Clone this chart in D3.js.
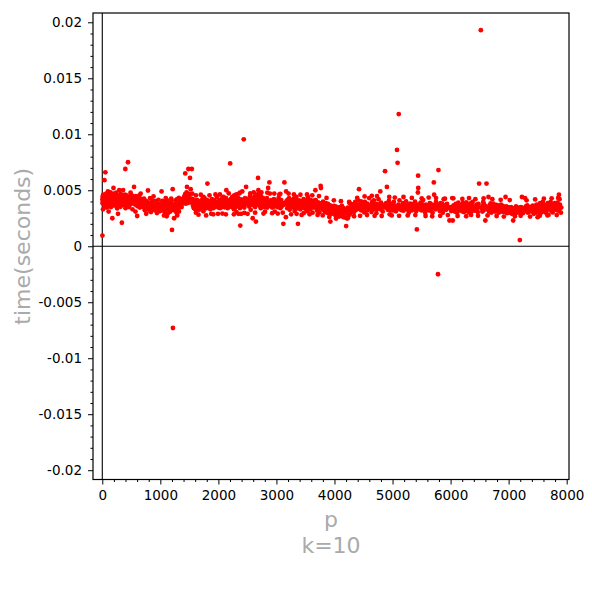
<!DOCTYPE html>
<html>
<head>
<meta charset="utf-8">
<script src="https://cdn.jsdelivr.net/npm/d3@7"></script>
<style>
  body { margin: 0; background: #fff; }
  svg { display: block; font-family: "DejaVu Sans", sans-serif; }
</style>
</head>
<body>
<svg id="chart" width="592" height="595"></svg>
<script>
// timing runs, [p, seconds], one block per thousand
const run0 = [[2,0.00095],[3,0.00420],[5,0.00385],[7,0.00445],[11,0.00402],[13,0.00330],[17,0.00460],[19,0.00415],[23,0.00372],[29,0.00428],[31,0.00398],[37,0.00590],[41,0.00455],[43,0.00410],[47,0.00360],[53,0.00660],[59,0.00432],[61,0.00395],[67,0.00470],[71,0.00380],[73,0.00418],[79,0.00345],[83,0.00440],[89,0.00405],[97,0.00490],[101,0.00375],[103,0.00425],[107,0.00455],[109,0.00310],[113,0.00398],[127,0.00440],[131,0.00372],[137,0.00418],[139,0.00482],[149,0.00350],[151,0.00430],[157,0.00402],[163,0.00455],[167,0.00388],[173,0.00250],[179,0.00415],[181,0.00365],[191,0.00470],[193,0.00520],[197,0.00398],[199,0.00430],
  [211,0.00410],[223,0.00362],[229,0.00445],[233,0.00392],[239,0.00478],[251,0.00420],[257,0.00338],[263,0.00405],[269,0.00455],[271,0.00290],[277,0.00415],[281,0.00372],[283,0.00440],[293,0.00500],[307,0.00398],[311,0.00425],[313,0.00352],[317,0.00468],[331,0.00410],[337,0.00210],[347,0.00435],[349,0.00380],[353,0.00415],[359,0.00502],[367,0.00448],[373,0.00365],[379,0.00420],[383,0.00395],[389,0.00460],[397,0.00690],[401,0.00340],[409,0.00425],[419,0.00405],[421,0.00455],[431,0.00372],[433,0.00415],[439,0.00388],[443,0.00750],[449,0.00436],[457,0.00398],[461,0.00350],[463,0.00442],[467,0.00410],[479,0.00372],[487,0.00478],[491,0.00405],[499,0.00380],
  [503,0.00425],[509,0.00455],[521,0.00330],[523,0.00400],[541,0.00418],[547,0.00530],[557,0.00375],[563,0.00435],[569,0.00392],[571,0.00310],[577,0.00448],[587,0.00405],[593,0.00365],[599,0.00420],[601,0.00270],[607,0.00388],[613,0.00440],[617,0.00356],[619,0.00412],[631,0.00380],[641,0.00455],[643,0.00402],[647,0.00345],[653,0.00420],[659,0.00388],[661,0.00470],[673,0.00395],[677,0.00355],[683,0.00418],[691,0.00385],
  [701,0.00392],[709,0.00348],[719,0.00425],[727,0.00368],[733,0.00322],[739,0.00384],[743,0.00352],[751,0.00405],[757,0.00290],[761,0.00370],[769,0.00398],[773,0.00338],[787,0.00498],[797,0.00362],[809,0.00388],[811,0.00318],[821,0.00370],[823,0.00430],[827,0.00345],[829,0.00382],[839,0.00305],[853,0.00392],[857,0.00340],[859,0.00410],[863,0.00365],[877,0.00328],[881,0.00395],[883,0.00445],[887,0.00352],[907,0.00378],[911,0.00320],[919,0.00402],[929,0.00348],[937,0.00372],[941,0.00296],[947,0.00385],[953,0.00340],[967,0.00415],[971,0.00360],[977,0.00330],[983,0.00375],[991,0.00312],[997,0.00352]];

const run1000 = [[1009,0.00362],[1013,0.00330],[1021,0.00490],[1031,0.00345],[1039,0.00372],[1049,0.00318],[1051,0.00395],[1061,0.00340],[1069,0.00365],[1087,0.00300],[1091,0.00352],[1097,0.00385],[1103,0.00328],[1117,0.00410],[1123,0.00345],[1129,0.00292],[1151,0.00368],[1153,0.00332],[1163,0.00380],[1171,0.00310],[1181,0.00355],[1187,0.00395],[1193,0.00338],[1201,0.00146],[1213,0.00510],[1217,-0.00730],[1223,0.00362],[1229,0.00322],[1237,0.00250],[1249,0.00375],[1259,0.00340],[1277,0.00302],[1279,0.00385],[1283,0.00352],[1289,0.00420],[1297,0.00328],[1303,0.00365],[1307,0.00395],[1319,0.00342],[1321,0.00310],[1327,0.00372],[1361,0.00395],[1367,0.00350],[1373,0.00420],[1381,0.00380],[1399,0.00405],
  [1409,0.00440],[1423,0.00398],[1427,0.00465],[1429,0.00650],[1433,0.00415],[1439,0.00380],[1447,0.00430],[1451,0.00480],[1453,0.00405],[1459,0.00530],[1471,0.00445],[1481,0.00388],[1483,0.00690],[1487,0.00430],[1489,0.00470],[1493,0.00400],[1499,0.00455],[1511,0.00610],[1523,0.00510],[1531,0.00425],[1543,0.00690],[1549,0.00470],[1553,0.00380],[1559,0.00420],[1567,0.00355],[1571,0.00395],[1579,0.00340],[1583,0.00372],[1597,0.00410],
  [1601,0.00330],[1607,0.00385],[1609,0.00355],[1613,0.00300],[1619,0.00392],[1621,0.00345],[1627,0.00368],[1637,0.00412],[1657,0.00350],[1663,0.00385],[1667,0.00325],[1669,0.00400],[1693,0.00362],[1697,0.00340],[1699,0.00395],[1709,0.00370],[1721,0.00418],[1723,0.00345],[1733,0.00380],[1741,0.00312],[1747,0.00398],[1753,0.00360],[1759,0.00432],[1777,0.00372],[1783,0.00338],[1787,0.00395],[1789,0.00355],[1801,0.00415],[1811,0.00560],[1823,0.00368],[1831,0.00342],[1847,0.00390],[1861,0.00330],[1867,0.00375],[1871,0.00405],[1873,0.00355],[1877,0.00290],[1879,0.00382],[1889,0.00420],[1901,0.00365],[1907,0.00395],[1913,0.00340],[1931,0.00378],[1933,0.00410],[1949,0.00352],[1951,0.00385],[1973,0.00440],[1979,0.00362],[1987,0.00395],[1993,0.00290],[1997,0.00372],[1999,0.00345]];

const run2000 = [[2003,0.00392],[2011,0.00360],[2017,0.00415],[2027,0.00378],[2029,0.00340],[2039,0.00402],[2053,0.00372],[2063,0.00425],[2069,0.00350],[2081,0.00390],[2083,0.00415],[2087,0.00362],[2089,0.00440],[2099,0.00385],[2111,0.00348],[2113,0.00405],[2129,0.00378],[2131,0.00430],[2137,0.00500],[2141,0.00392],[2143,0.00365],[2153,0.00410],[2161,0.00340],[2179,0.00395],[2203,0.00740],[2207,0.00375],[2213,0.00420],[2221,0.00352],[2237,0.00398],[2239,0.00440],[2243,0.00368],[2251,0.00410],[2267,0.00330],[2269,0.00385],[2273,0.00455],[2281,0.00372],[2287,0.00402],[2293,0.00345],[2297,0.00420],[2309,0.00380],[2311,0.00305],[2333,0.00395],[2339,0.00362],[2341,0.00430],[2347,0.00290],[2351,0.00410],[2357,0.00470],[2371,0.00340],[2377,0.00185],[2381,0.00385],[2383,0.00350],[2389,0.00418],[2393,0.00290],[2399,0.00375],
  [2411,0.00490],[2417,0.00412],[2423,0.00360],[2437,0.00955],[2441,0.00398],[2447,0.00345],[2459,0.00430],[2467,0.00372],[2473,0.00410],[2477,0.00530],[2503,0.00385],[2521,0.00420],[2531,0.00355],[2539,0.00398],[2543,0.00445],[2549,0.00370],[2551,0.00405],[2557,0.00325],[2579,0.00388],[2591,0.00250],[2593,0.00415],[2609,0.00365],[2617,0.00440],[2621,0.00392],[2633,0.00350],[2647,0.00220],[2657,0.00405],[2659,0.00375],[2663,0.00460],[2671,0.00395],[2677,0.00420],[2683,0.00610],[2687,0.00372],[2689,0.00500],[2693,0.00438],[2699,0.00470],
  [2707,0.00400],[2711,0.00360],[2713,0.00425],[2719,0.00385],[2729,0.00452],[2731,0.00340],[2741,0.00410],[2749,0.00378],[2753,0.00395],[2767,0.00432],[2777,0.00365],[2789,0.00400],[2791,0.00350],[2797,0.00380],[2801,0.00420],[2803,0.00308],[2819,0.00392],[2833,0.00370],[2837,0.00430],[2843,0.00345],[2851,0.00398],[2857,0.00520],[2861,0.00375],[2879,0.00570],[2887,0.00470],[2897,0.00392],[2903,0.00360],[2909,0.00412],[2917,0.00380],[2927,0.00345],[2939,0.00400],[2953,0.00372],[2957,0.00420],[2963,0.00355],[2969,0.00388],[2971,0.00310],[2999,0.00395]];

const run3000 = [[3001,0.00372],[3011,0.00405],[3019,0.00350],[3023,0.00385],[3037,0.00430],[3041,0.00362],[3049,0.00460],[3061,0.00392],[3067,0.00340],[3079,0.00375],[3083,0.00412],[3089,0.00355],[3109,0.00385],[3119,0.00200],[3121,0.00368],[3137,0.00570],[3163,0.00260],[3167,0.00490],[3169,0.00400],[3181,0.00372],[3187,0.00340],[3191,0.00415],[3203,0.00385],[3209,0.00358],[3217,0.00430],[3221,0.00370],[3229,0.00325],[3251,0.00398],[3253,0.00360],[3257,0.00412],[3259,0.00345],[3271,0.00380],[3299,0.00425],[3301,0.00352],[3307,0.00390],[3313,0.00315],[3319,0.00370],[3323,0.00405],[3329,0.00348],[3331,0.00385],[3343,0.00440],[3347,0.00362],[3359,0.00395],[3361,0.00338],[3371,0.00200],[3373,0.00378],[3389,0.00410],[3391,0.00355],
  [3407,0.00382],[3413,0.00330],[3433,0.00280],[3449,0.00372],[3457,0.00400],[3461,0.00345],[3463,0.00388],[3467,0.00420],[3469,0.00360],[3491,0.00395],[3499,0.00335],[3511,0.00372],[3517,0.00410],[3527,0.00350],[3529,0.00385],[3533,0.00312],[3539,0.00368],[3541,0.00440],[3547,0.00378],[3557,0.00345],[3559,0.00398],[3571,0.00362],[3581,0.00415],[3583,0.00330],[3593,0.00380],[3607,0.00350],[3613,0.00392],[3617,0.00365],[3623,0.00300],[3631,0.00375],[3637,0.00408],[3643,0.00345],[3659,0.00385],[3671,0.00500],[3673,0.00358],[3677,0.00412],[3691,0.00340],[3697,0.00372],
  [3701,0.00318],[3709,0.00360],[3719,0.00392],[3727,0.00335],[3733,0.00370],[3739,0.00302],[3761,0.00540],[3767,0.00520],[3769,0.00350],[3779,0.00385],[3793,0.00328],[3797,0.00365],[3803,0.00398],[3821,0.00340],[3823,0.00372],[3833,0.00305],[3847,0.00355],[3851,0.00385],[3853,0.00330],[3863,0.00362],[3877,0.00298],[3881,0.00345],[3889,0.00378],[3907,0.00320],[3911,0.00352],[3917,0.00290],[3919,0.00338],[3923,0.00365],[3929,0.00220],[3931,0.00310],[3943,0.00345],[3947,0.00290],[3967,0.00332],[3989,0.00360]];

const run4000 = [[4001,0.00318],[4003,0.00285],[4007,0.00340],[4013,0.00302],[4019,0.00355],[4021,0.00272],[4027,0.00325],[4049,0.00298],[4051,0.00345],[4057,0.00310],[4073,0.00332],[4079,0.00265],[4091,0.00315],[4093,0.00350],[4099,0.00292],[4111,0.00328],[4127,0.00305],[4129,0.00360],[4133,0.00280],[4139,0.00320],[4153,0.00260],[4157,0.00340],[4159,0.00298],[4177,0.00315],[4201,0.00180],[4211,0.00250],[4217,0.00330],[4219,0.00290],[4229,0.00250],[4231,0.00345],[4241,0.00305],[4243,0.00272],[4253,0.00335],[4259,0.00310],[4261,0.00385],[4271,0.00325],[4273,0.00290],[4283,0.00350],[4289,0.00318],[4297,0.00375],[4327,0.00335],[4337,0.00305],[4339,0.00362],[4349,0.00340],[4357,0.00395],[4363,0.00350],[4373,0.00325],[4391,0.00372],[4397,0.00340],
  [4409,0.00410],[4421,0.00355],[4423,0.00510],[4441,0.00330],[4447,0.00378],[4451,0.00345],[4457,0.00400],[4463,0.00320],[4481,0.00362],[4483,0.00340],[4493,0.00385],[4507,0.00352],[4513,0.00302],[4517,0.00370],[4519,0.00335],[4523,0.00395],[4547,0.00345],[4549,0.00368],[4561,0.00318],[4567,0.00380],[4583,0.00340],[4591,0.00365],[4597,0.00430],[4603,0.00335],[4621,0.00358],[4637,0.00305],[4639,0.00372],[4643,0.00342],[4649,0.00398],[4651,0.00355],[4657,0.00325],[4663,0.00380],[4673,0.00348],[4679,0.00410],[4691,0.00335],
  [4703,0.00365],[4721,0.00295],[4723,0.00350],[4729,0.00378],[4733,0.00332],[4751,0.00360],[4759,0.00420],[4783,0.00345],[4787,0.00370],[4789,0.00490],[4793,0.00330],[4799,0.00362],[4801,0.00390],[4813,0.00340],[4817,0.00372],[4831,0.00310],[4861,0.00355],[4871,0.00670],[4877,0.00345],[4889,0.00385],[4903,0.00530],[4909,0.00350],[4919,0.00325],[4931,0.00370],[4933,0.00338],[4937,0.00405],[4943,0.00355],[4951,0.00285],[4957,0.00340],[4967,0.00372],[4969,0.00320],[4973,0.00358],[4987,0.00342],[4993,0.00380],[4999,0.00330]];

const run5000 = [[5003,0.00352],[5009,0.00320],[5011,0.00368],[5021,0.00340],[5023,0.00395],[5039,0.00330],[5051,0.00358],[5059,0.00312],[5077,0.00860],[5081,0.00350],[5087,0.00745],[5099,0.00340],[5101,0.00372],[5107,0.01180],[5113,0.00335],[5119,0.00410],[5147,0.00352],[5153,0.00322],[5167,0.00365],[5171,0.00340],[5179,0.00385],[5189,0.00318],[5197,0.00350],[5209,0.00372],[5227,0.00335],[5231,0.00360],[5233,0.00400],[5237,0.00342],[5261,0.00325],[5273,0.00368],[5279,0.00345],[5281,0.00300],[5297,0.00355],[5303,0.00380],[5309,0.00338],[5323,0.00362],[5333,0.00320],[5347,0.00350],[5351,0.00375],[5381,0.00340],[5387,0.00398],[5393,0.00330],[5399,0.00358],
  [5407,0.00312],[5413,0.00365],[5417,0.00345],[5419,0.00150],[5431,0.00372],[5437,0.00480],[5441,0.00630],[5443,0.00520],[5449,0.00355],[5471,0.00330],[5477,0.00368],[5479,0.00342],[5483,0.00390],[5501,0.00320],[5503,0.00352],[5507,0.00375],[5519,0.00338],[5521,0.00360],[5527,0.00412],[5531,0.00330],[5557,0.00355],[5563,0.00300],[5569,0.00345],[5573,0.00372],[5581,0.00335],[5591,0.00360],[5623,0.00322],[5639,0.00350],[5641,0.00385],[5647,0.00340],[5651,0.00365],[5653,0.00318],[5657,0.00348],[5659,0.00378],[5669,0.00330],[5683,0.00355],[5689,0.00300],[5693,0.00342],
  [5701,0.00368],[5711,0.00570],[5717,0.00460],[5737,0.00345],[5741,0.00370],[5743,0.00330],[5749,0.00395],[5779,0.00352],[5783,-0.00250],[5791,0.00680],[5801,0.00340],[5807,0.00372],[5813,0.00315],[5821,0.00350],[5827,0.00385],[5839,0.00338],[5843,0.00362],[5849,0.00325],[5851,0.00355],[5857,0.00380],[5861,0.00340],[5867,0.00300],[5869,0.00365],[5879,0.00348],[5881,0.00420],[5897,0.00335],[5903,0.00360],[5923,0.00325],[5927,0.00352],[5939,0.00378],[5953,0.00340],[5981,0.00230],[5987,0.00350]];

const run6000 = [[6007,0.00342],[6011,0.00315],[6029,0.00430],[6037,0.00230],[6043,0.00355],[6047,0.00330],[6053,0.00365],[6067,0.00340],[6073,0.00310],[6079,0.00352],[6089,0.00378],[6091,0.00325],[6101,0.00348],[6113,0.00300],[6121,0.00362],[6131,0.00335],[6133,0.00390],[6143,0.00320],[6151,0.00345],[6163,0.00370],[6173,0.00330],[6197,0.00355],[6199,0.00312],[6203,0.00340],[6211,0.00385],[6217,0.00328],[6221,0.00352],[6229,0.00305],[6247,0.00340],[6257,0.00368],[6263,0.00322],[6269,0.00345],[6271,0.00392],[6277,0.00330],[6287,0.00358],[6299,0.00310],[6301,0.00342],[6311,0.00372],[6317,0.00430],[6323,0.00335],[6329,0.00300],[6337,0.00350],[6343,0.00382],[6353,0.00325],[6359,0.00345],[6361,0.00365],[6367,0.00312],[6373,0.00340],[6379,0.00395],[6389,0.00330],[6397,0.00355],
  [6421,0.00318],[6427,0.00345],[6449,0.00372],[6451,0.00332],[6469,0.00305],[6473,0.00352],[6481,0.00378],[6491,0.00560],[6521,0.01930],[6529,0.00340],[6547,0.00310],[6551,0.00362],[6553,0.00335],[6563,0.00395],[6569,0.00320],[6571,0.00350],[6577,0.00375],[6581,0.00338],[6599,0.00230],[6607,0.00355],[6619,0.00560],[6637,0.00330],[6653,0.00440],[6659,0.00345],[6661,0.00312],[6673,0.00368],[6679,0.00335],[6689,0.00382],[6691,0.00350],
  [6701,0.00300],[6703,0.00342],[6709,0.00365],[6719,0.00325],[6733,0.00352],[6737,0.00380],[6761,0.00338],[6763,0.00310],[6779,0.00355],[6781,0.00332],[6791,0.00370],[6793,0.00345],[6803,0.00318],[6823,0.00340],[6827,0.00362],[6829,0.00300],[6833,0.00335],[6841,0.00355],[6857,0.00322],[6863,0.00342],[6869,0.00372],[6871,0.00310],[6883,0.00338],[6899,0.00360],[6907,0.00325],[6911,0.00348],[6917,0.00305],[6947,0.00440],[6949,0.00332],[6959,0.00355],[6961,0.00312],[6967,0.00340],[6971,0.00295],[6977,0.00325],[6983,0.00350],[6991,0.00318],[6997,0.00338]];

const run7000 = [[7001,0.00320],[7013,0.00345],[7019,0.00300],[7027,0.00335],[7039,0.00312],[7043,0.00350],[7057,0.00290],[7069,0.00328],[7079,0.00230],[7103,0.00340],[7109,0.00305],[7121,0.00322],[7127,0.00355],[7129,0.00298],[7151,0.00330],[7159,0.00312],[7177,0.00345],[7187,0.00300],[7193,0.00055],[7207,0.00325],[7211,0.00350],[7213,0.00310],[7219,0.00335],[7229,0.00440],[7237,0.00320],[7243,0.00342],[7247,0.00295],[7253,0.00330],[7283,0.00430],[7297,0.00355],[7307,0.00315],[7309,0.00338],[7321,0.00365],[7331,0.00325],[7333,0.00300],[7349,0.00345],[7351,0.00320],[7369,0.00352],[7393,0.00310],
  [7411,0.00338],[7417,0.00362],[7433,0.00290],[7451,0.00330],[7457,0.00355],[7459,0.00318],[7477,0.00345],[7481,0.00372],[7487,0.00300],[7489,0.00335],[7499,0.00260],[7507,0.00352],[7517,0.00325],[7523,0.00365],[7529,0.00340],[7537,0.00310],[7541,0.00385],[7547,0.00332],[7549,0.00355],[7559,0.00300],[7561,0.00345],[7573,0.00320],[7577,0.00372],[7583,0.00338],[7589,0.00395],[7591,0.00310],[7603,0.00350],[7607,0.00328],[7621,0.00370],[7639,0.00342],[7643,0.00300],[7649,0.00358],[7669,0.00325],[7673,0.00385],[7681,0.00345],[7687,0.00280],[7691,0.00362],[7699,0.00332],
  [7703,0.00375],[7717,0.00340],[7723,0.00395],[7727,0.00318],[7741,0.00352],[7753,0.00330],[7757,0.00372],[7759,0.00302],[7789,0.00348],[7793,0.00385],[7817,0.00325],[7823,0.00360],[7829,0.00340],[7841,0.00390],[7853,0.00318],[7867,0.00460],[7873,0.00355],[7877,0.00420],[7879,0.00335],[7883,0.00372],[7901,0.00300],[7907,0.00345]];

// scattered points on the upper / lower edge of the band
const edgeRuns = [[1033,0.00405],[1063,0.00275],[1093,0.00430],[1109,0.00268],[1187,0.00425],[1259,0.00410],[1291,0.00275],[1319,0.00432],[1613,0.00455],[1657,0.00282],[1697,0.00460],[1741,0.00440],[1789,0.00275],[1847,0.00455],[1913,0.00285],[1949,0.00462],[2027,0.00462],[2069,0.00292],[2129,0.00285],[2179,0.00472],[2267,0.00285],[2309,0.00462],[2371,0.00478],[2447,0.00298],[2503,0.00290],[2549,0.00472],[2609,0.00480],[2633,0.00300],[2741,0.00480],[2777,0.00292],[2843,0.00478],[2927,0.00295],[2963,0.00470],[3023,0.00292],[3067,0.00468],[3109,0.00300],[3209,0.00470],[3253,0.00285],[3301,0.00462],[3347,0.00290],[3413,0.00460],[3469,0.00295],[3527,0.00462],[3571,0.00285],[3617,0.00455],[3709,0.00280],[3733,0.00448],[3797,0.00275],[3863,0.00432],[3911,0.00262],[3989,0.00410],[4027,0.00248],[4111,0.00402],[4177,0.00258],[4253,0.00395],[4337,0.00268],[4391,0.00432],[4441,0.00272],[4519,0.00445],[4561,0.00278],[4643,0.00450],[4691,0.00272],[4733,0.00448],[4813,0.00270],[4943,0.00440],[4987,0.00275],[5039,0.00435],[5113,0.00272],[5189,0.00440],[5261,0.00275],[5333,0.00432],[5393,0.00278],[5503,0.00428],[5569,0.00270],[5623,0.00435],[5683,0.00268],[5749,0.00430],[5821,0.00272],[5903,0.00425],[5953,0.00278],[6047,0.00428],[6121,0.00270],[6203,0.00422],[6269,0.00268],[6353,0.00280],[6427,0.00420],[6473,0.00272],[6569,0.00428],[6637,0.00275],[6719,0.00420],[6793,0.00270],[6863,0.00415],[6917,0.00265],[7019,0.00412],[7109,0.00268],[7207,0.00272],[7309,0.00410],[7369,0.00265],[7457,0.00418],[7537,0.00272],[7607,0.00425],[7669,0.00275],[7741,0.00428],[7829,0.00278],[7853,0.00432]];

// ticks
const xMajorTicks = [0, 1000, 2000, 3000, 4000, 5000, 6000, 7000, 8000];
const xMinorTicks = [200, 400, 600, 800, 1200, 1400, 1600, 1800, 2200, 2400, 2600, 2800, 3200, 3400, 3600, 3800,
  4200, 4400, 4600, 4800, 5200, 5400, 5600, 5800, 6200, 6400, 6600, 6800, 7200, 7400, 7600, 7800];
const yMajorTicks = [0.02, 0.015, 0.01, 0.005, 0, -0.005, -0.01, -0.015, -0.02];
const yTickLabels = ["0.02", "0.015", "0.01", "0.005", "0", "-0.005", "-0.01", "-0.015", "-0.02"];
const yMinorTicks = [0.019, 0.018, 0.017, 0.016, 0.014, 0.013, 0.012, 0.011, 0.009, 0.008, 0.007, 0.006,
  0.004, 0.003, 0.002, 0.001, -0.001, -0.002, -0.003, -0.004, -0.006, -0.007, -0.008, -0.009,
  -0.011, -0.012, -0.013, -0.014, -0.016, -0.017, -0.018, -0.019];

const xLabel = "p";
const subLabel = "k=10";
const yLabel = "time(seconds)";

const allRuns = [].concat(run0, run1000, run2000, run3000, run4000, run5000, run6000, run7000, edgeRuns);

// plot frame (pixel edges)
const frameLeft = 93, frameRight = 569, frameTop = 13, frameBottom = 479.5;

const svg = d3.select("#chart");

const x = d3.scaleLinear()
    .domain([-160, 8040])
    .range([frameLeft, frameRight]);

const y = d3.scaleLinear()
    .domain([-0.02083, 0.02083])
    .range([frameBottom, frameTop]);

const labelColor = "#aaaaaa";

// frame box
svg.append("rect")
    .attr("x", frameLeft)
    .attr("y", frameTop)
    .attr("width", frameRight - frameLeft)
    .attr("height", frameBottom - frameTop)
    .attr("fill", "none")
    .attr("stroke", "#000")
    .attr("stroke-width", 1.2);

// zero axes through the origin
svg.append("line")
    .attr("x1", x(0)).attr("x2", x(0))
    .attr("y1", frameTop).attr("y2", frameBottom)
    .attr("stroke", "#000").attr("stroke-width", 1.1);
svg.append("line")
    .attr("x1", frameLeft).attr("x2", frameRight)
    .attr("y1", y(0)).attr("y2", y(0))
    .attr("stroke", "#000").attr("stroke-width", 1.1);

// y ticks on the left edge of the frame
svg.append("g")
    .attr("transform", `translate(${frameLeft},0)`)
    .call(d3.axisLeft(y)
        .tickValues(yMajorTicks)
        .tickSize(5)
        .tickPadding(6)
        .tickFormat((d, i) => yTickLabels[i]));
svg.append("g")
    .attr("transform", `translate(${frameLeft},0)`)
    .call(d3.axisLeft(y).tickValues(yMinorTicks).tickSize(2.5).tickFormat(""));

// x ticks on the bottom edge
svg.append("g")
    .attr("transform", `translate(0,${frameBottom})`)
    .call(d3.axisBottom(x)
        .tickValues(xMajorTicks)
        .tickSize(5)
        .tickPadding(6)
        .tickFormat(d => String(d)));
svg.append("g")
    .attr("transform", `translate(0,${frameBottom})`)
    .call(d3.axisBottom(x).tickValues(xMinorTicks).tickSize(2.5).tickFormat(""));

svg.selectAll(".domain").remove();
svg.selectAll(".tick line").attr("stroke", "#000").attr("stroke-width", 1);
svg.selectAll(".tick text")
    .attr("fill", "#000")
    .style("font-family", "DejaVu Sans, sans-serif")
    .style("font-size", "13.5px");

// points
svg.append("g")
    .selectAll("circle")
    .data(allRuns)
    .join("circle")
    .attr("cx", d => x(d[0]))
    .attr("cy", d => y(d[1]))
    .attr("r", 2.4)
    .attr("fill", "#ff0000");

// axis labels
svg.append("text")
    .attr("x", (frameLeft + frameRight) / 2)
    .attr("y", 527)
    .attr("text-anchor", "middle")
    .attr("fill", labelColor)
    .style("font-size", "22px")
    .text(xLabel);
svg.append("text")
    .attr("x", (frameLeft + frameRight) / 2)
    .attr("y", 553)
    .attr("text-anchor", "middle")
    .attr("fill", labelColor)
    .style("font-size", "22px")
    .text(subLabel);
svg.append("text")
    .attr("transform", `translate(30,${(frameTop + frameBottom) / 2}) rotate(-90)`)
    .attr("text-anchor", "middle")
    .attr("fill", labelColor)
    .style("font-size", "22px")
    .text(yLabel);
</script>
</body>
</html>
